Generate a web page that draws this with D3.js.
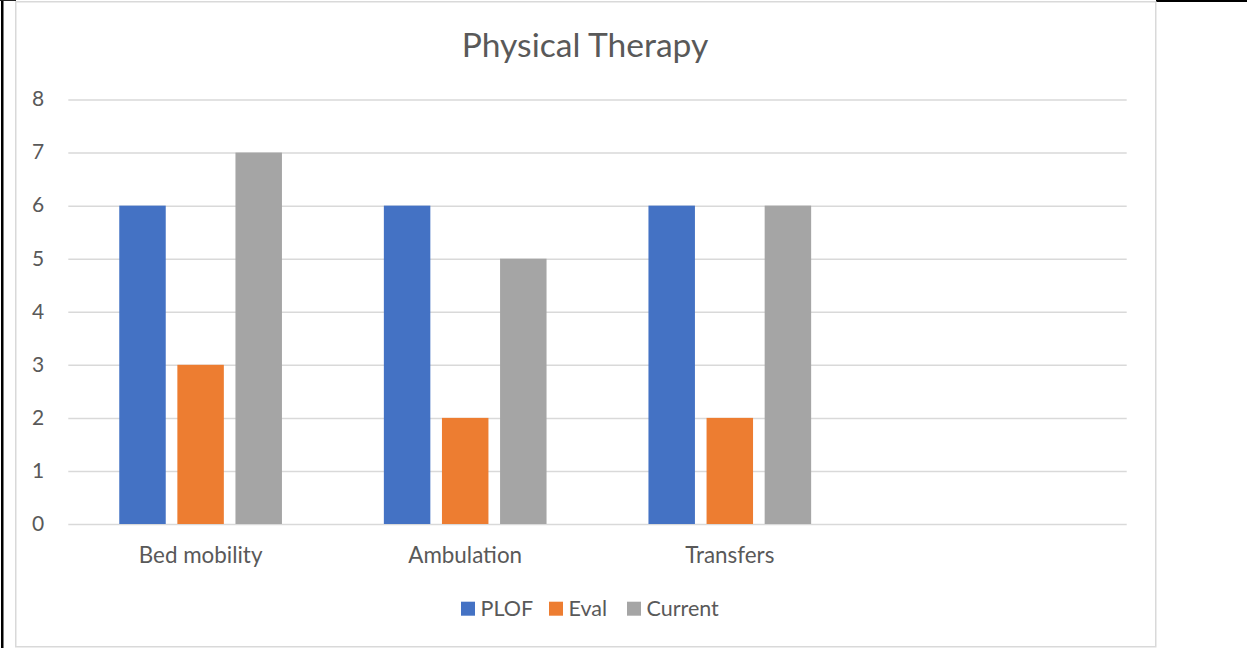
<!DOCTYPE html>
<html>
<head>
<meta charset="utf-8">
<script src="https://cdn.jsdelivr.net/npm/d3@7"></script>
<style>
  html, body { margin: 0; padding: 0; background: #fff; }
  svg { display: block; }
  text { font-family: Lato, "Open Sans", sans-serif; fill: #595959; }
</style>
</head>
<body>
<svg id="chart" width="1247" height="648"></svg>
<script>
const title = "Physical Therapy";
const categories = ["Bed mobility", "Ambulation", "Transfers", ""];
const seriesNames = ["PLOF", "Eval", "Current"];
const plofValues = [6, 6, 6];
const evalValues = [3, 2, 2];
const currentValues = [7, 5, 6];
const yTicks = [0, 1, 2, 3, 4, 5, 6, 7, 8];
const colors = ["#4472C4", "#ED7D31", "#A5A5A5"];

const seriesValues = [plofValues, evalValues, currentValues];

const svg = d3.select("#chart");

// page frame lines
svg.append("rect").attr("x", 1).attr("y", 0).attr("width", 2.5).attr("height", 648).attr("fill", "#000");
svg.append("rect").attr("x", 0).attr("y", 0).attr("width", 16).attr("height", 1).attr("fill", "#222");
svg.append("rect").attr("x", 1156).attr("y", 0).attr("width", 91).attr("height", 2).attr("fill", "#000");

// chart area border
svg.append("rect")
  .attr("x", 15.75).attr("y", 1.75).attr("width", 1140).attr("height", 645)
  .attr("fill", "#fff").attr("stroke", "#d9d9d9").attr("stroke-width", 1.5);

const plotLeft = 68.3, plotRight = 1126.7, plotTop = 99.5, plotBottom = 524;

const x0 = d3.scaleBand().domain(categories.map((c, i) => i)).range([plotLeft, plotRight]).padding(0);
const x1 = d3.scaleBand().domain(seriesNames).range([0, x0.bandwidth()])
  .paddingInner(0.2).paddingOuter(0.877);
const y = d3.scaleLinear().domain([0, 8]).range([plotBottom, plotTop]);

// gridlines
const yAxis = d3.axisLeft(y).tickValues(yTicks).tickSize(-(plotRight - plotLeft)).tickPadding(24).tickFormat(d3.format("d"));
const gy = svg.append("g").attr("transform", `translate(${plotLeft},0)`).call(yAxis);
gy.select(".domain").remove();
gy.selectAll(".tick line").attr("stroke", "#d9d9d9").attr("stroke-width", 1.5);
gy.selectAll(".tick text").attr("font-size", 21).attr("fill", "#595959")
  .attr("font-family", "Lato, sans-serif").attr("dy", "0.3em");

// bars
const groups = svg.append("g").selectAll("g")
  .data(seriesNames)
  .join("g")
  .attr("fill", (d, i) => colors[i]);

groups.selectAll("rect")
  .data((s, si) => seriesValues[si].map((v, ci) => ({ s, v, ci })))
  .join("rect")
  .attr("x", d => x0(d.ci) + x1(d.s))
  .attr("width", x1.bandwidth())
  .attr("y", d => y(d.v))
  .attr("height", d => y(0) - y(d.v));

// x axis labels
const xAxis = d3.axisBottom(x0).tickSize(0).tickPadding(23).tickFormat(i => categories[i]);
const gx = svg.append("g").attr("transform", `translate(0,${plotBottom})`).call(xAxis);
gx.select(".domain").remove();
gx.selectAll(".tick text").attr("font-size", 22.4).attr("fill", "#595959").attr("font-family", "Lato, sans-serif");

// title
svg.append("text").attr("x", 585).attr("y", 57).attr("text-anchor", "middle")
  .attr("font-size", 33.6).text(title);

// legend
const legendX = [461, 549, 627];
const lg = svg.append("g").selectAll("g").data(seriesNames).join("g")
  .attr("transform", (d, i) => `translate(${legendX[i]},0)`);
lg.append("rect").attr("x", 0).attr("y", 601.7).attr("width", 14).attr("height", 14).attr("fill", (d, i) => colors[i]);
lg.append("text").attr("x", 19.5).attr("y", 615.5).attr("font-size", 21.5).text(d => d);
</script>
</body>
</html>
